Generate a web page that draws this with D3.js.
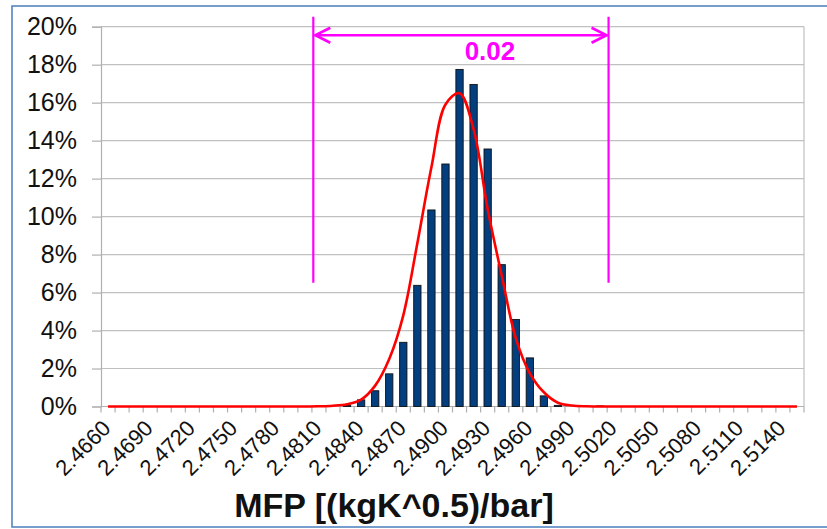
<!DOCTYPE html>
<html>
<head>
<meta charset="utf-8">
<script src="https://cdn.jsdelivr.net/npm/d3@7/dist/d3.min.js"></script>
<style>
  html, body { margin: 0; padding: 0; background: #fff; }
  svg { display: block; }
  text { font-family: Arial, "Liberation Sans", sans-serif; }
</style>
</head>
<body>
<svg id="chart" width="827" height="529"></svg>
<script>
// MFP histogram bins (bin centre values, step 0.001)
const binStart = 2.4660;
const binStep = 0.001;
const binCount = 50;

// Share of samples in each bin, percent (bins 0..49)
const frequency = [
  0, 0, 0, 0, 0, 0, 0, 0, 0, 0,
  0, 0, 0, 0, 0, 0.03, 0, 0.06, 0.35, 0.83,
  1.72, 3.38, 6.38, 10.35, 12.77, 17.75, 16.96, 13.56, 7.47, 4.58,
  2.56, 0.56, 0.06, 0, 0, 0.03, 0, 0, 0, 0,
  0, 0, 0, 0, 0, 0, 0, 0, 0, 0
];

// Fitted normal distribution, percent, per bin
const normalFit = [
  0, 0, 0, 0, 0, 0, 0, 0, 0, 0,
  0, 0, 0, 0, 0, 0.01, 0.04, 0.12, 0.36, 1.1,
  2.5, 4.8, 8.6, 12.6, 15.9, 16.5, 14.6, 10.4, 6.9, 3.6,
  1.75, 0.75, 0.2, 0.05, 0.01, 0, 0, 0, 0, 0,
  0, 0, 0, 0, 0, 0, 0, 0, 0, 0
];

const yTicks = [0, 2, 4, 6, 8, 10, 12, 14, 16, 18, 20];

// Tolerance band marked above the histogram
const bandLimits = [2.4806, 2.5016];
const bandLabel = "0.02";

const axisTitle = "MFP [(kgK^0.5)/bar]";

const bins = d3.range(binCount).map(i => ({
  i,
  value: +(binStart + i * binStep).toFixed(4),
  freq: frequency[i],
  fit: normalFit[i]
}));

const svg = d3.select("#chart");
const W = 827, H = 529;
const plot = { left: 101, right: 804, top: 26.7, bottom: 406.5 };

// Chart frame
svg.append("rect")
  .attr("x", 12).attr("y", 6)
  .attr("width", W).attr("height", H - 8)
  .attr("fill", "#fff")
  .attr("stroke", "#4a7ebb").attr("stroke-width", 1.5);

const x = d3.scaleBand()
  .domain(bins.map(d => d.i))
  .range([plot.left, plot.right])
  .paddingInner(0).paddingOuter(0);

// Continuous value scale aligned with the band centres
const xv = d3.scaleLinear()
  .domain([binStart - binStep / 2, binStart + (binCount - 0.5) * binStep])
  .range([plot.left, plot.right]);

const y = d3.scaleLinear().domain([0, 20]).range([plot.bottom, plot.top]);

// Horizontal gridlines
svg.append("g")
  .selectAll("line")
  .data(yTicks)
  .join("line")
  .attr("x1", plot.left).attr("x2", plot.right)
  .attr("y1", d => y(d)).attr("y2", d => y(d))
  .attr("stroke", "#c0c0c0").attr("stroke-width", 1.2);

// Plot area right border
svg.append("line")
  .attr("x1", plot.right).attr("x2", plot.right)
  .attr("y1", plot.top).attr("y2", plot.bottom)
  .attr("stroke", "#c0c0c0").attr("stroke-width", 1.2);

// Y axis
const yAxis = d3.axisLeft(y)
  .tickValues(yTicks)
  .tickFormat(d => d + "%")
  .tickSize(9)
  .tickPadding(15);
const gy = svg.append("g")
  .attr("transform", `translate(${plot.left},0)`)
  .call(yAxis);
gy.select(".domain").attr("stroke", "#b0b0b0").attr("stroke-width", 1.2);
gy.selectAll(".tick line").attr("stroke", "#b0b0b0").attr("stroke-width", 1.2);
gy.selectAll(".tick text")
  .attr("font-size", 25)
  .attr("fill", "#111")
  .attr("font-family", "Arial, 'Liberation Sans', sans-serif");

// X axis: ticks between bins, labels every third bin
const gx = svg.append("g").attr("transform", `translate(0,${plot.bottom})`);
gx.append("line")
  .attr("x1", plot.left).attr("x2", plot.right)
  .attr("stroke", "#b0b0b0").attr("stroke-width", 1.2);
gx.selectAll("line.tk")
  .data(d3.range(binCount + 1))
  .join("line")
  .attr("class", "tk")
  .attr("x1", i => plot.left + i * x.bandwidth())
  .attr("x2", i => plot.left + i * x.bandwidth())
  .attr("y1", 0).attr("y2", 6)
  .attr("stroke", "#b0b0b0").attr("stroke-width", 1.2);
gx.selectAll("text")
  .data(bins.filter(d => d.i % 3 === 0))
  .join("text")
  .attr("transform", d => `translate(${x(d.i) + x.bandwidth() / 2 + 4},${23}) rotate(-45)`)
  .attr("text-anchor", "end")
  .attr("font-size", 22)
  .attr("fill", "#111")
  .text(d => d.value.toFixed(4));

// Histogram bars
const barW = 7.3;
svg.append("g")
  .selectAll("rect")
  .data(bins.filter(d => d.freq > 0))
  .join("rect")
  .attr("x", d => x(d.i) + x.bandwidth() / 2 - barW / 2)
  .attr("width", barW)
  .attr("y", d => y(d.freq))
  .attr("height", d => y(0) - y(d.freq))
  .attr("fill", "#033e7e")
  .attr("stroke", "#111")
  .attr("stroke-width", 0.9);

// Normal fit curve
const line = d3.line()
  .x(d => x(d.i) + x.bandwidth() / 2)
  .y(d => y(d.fit))
  .curve(d3.curveCatmullRom.alpha(0.5));
svg.append("path")
  .datum(bins)
  .attr("d", line)
  .attr("fill", "none")
  .attr("stroke", "#ff0000")
  .attr("stroke-width", 2.6);

// Tolerance band markers
const mag = "#ff00ff";
const band = svg.append("g");
bandLimits.forEach(v => {
  band.append("line")
    .attr("x1", xv(v)).attr("x2", xv(v))
    .attr("y1", y(20.53)).attr("y2", y(6.52))
    .attr("stroke", mag).attr("stroke-width", 2.2);
});
const ay = y(19.55);
const xl = xv(bandLimits[0]) + 2, xr = xv(bandLimits[1]) - 2;
band.append("line")
  .attr("x1", xl).attr("x2", xr)
  .attr("y1", ay).attr("y2", ay)
  .attr("stroke", mag).attr("stroke-width", 2.4);
band.append("path")
  .attr("d", `M${xl + 15},${ay - 7.5} L${xl},${ay} L${xl + 15},${ay + 7.5}`)
  .attr("fill", "none").attr("stroke", mag).attr("stroke-width", 2.6);
band.append("path")
  .attr("d", `M${xr - 15},${ay - 7.5} L${xr},${ay} L${xr - 15},${ay + 7.5}`)
  .attr("fill", "none").attr("stroke", mag).attr("stroke-width", 2.6);
band.append("text")
  .attr("x", (xv(bandLimits[0]) + xv(bandLimits[1])) / 2 + 29)
  .attr("y", y(18.27))
  .attr("text-anchor", "middle")
  .attr("font-size", 26)
  .attr("font-weight", "bold")
  .attr("fill", mag)
  .text(bandLabel);

// Axis title
svg.append("text")
  .attr("x", 394).attr("y", 516.5)
  .attr("text-anchor", "middle")
  .attr("font-size", 34)
  .attr("font-weight", "bold")
  .attr("fill", "#111")
  .text(axisTitle);
</script>
</body>
</html>
